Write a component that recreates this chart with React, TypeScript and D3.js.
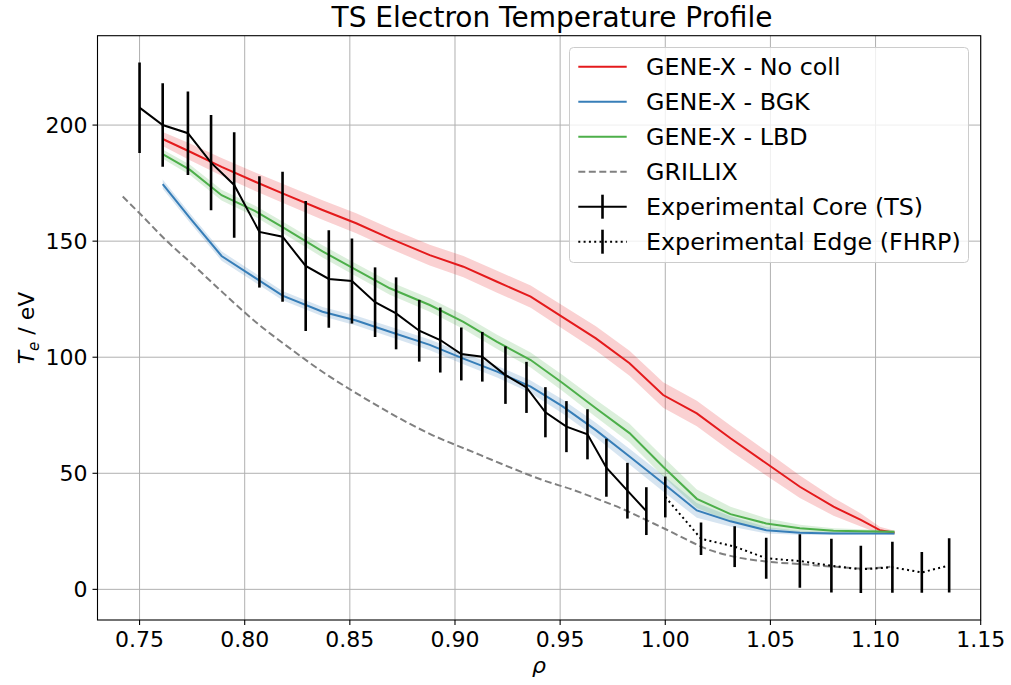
import React from "react";
import * as d3 from "d3";

// ---------- data ----------
const geneRho = [0.761, 0.774, 0.789, 0.805, 0.818, 0.837, 0.853, 0.869, 0.888, 0.904, 0.92, 0.936, 0.951, 0.967, 0.983, 0.999, 1.015, 1.031, 1.048, 1.064, 1.08, 1.093, 1.102, 1.109];
const noCollTe = [194, 188.5, 182, 175.6, 170.6, 163.4, 157.7, 151.2, 144, 139, 132.5, 126.1, 117.4, 108.1, 97.4, 83.7, 75.8, 65.1, 54.3, 44.2, 35.6, 29.9, 25.5, 24.4];
const noCollErr = [3, 3.6, 3.8, 4, 4.1, 4.2, 4.3, 4.4, 4.5, 4.6, 4.7, 4.8, 5, 5.2, 5.4, 5.5, 5.5, 5.5, 5.3, 4.8, 3.9, 2.8, 1.5, 0.8];
const bgkTe = [174.6, 159.9, 143.6, 134.2, 126.5, 119.6, 115.8, 111, 105.3, 99.4, 93.8, 87.3, 78.9, 68.6, 57.2, 45.7, 34, 29.3, 25.5, 24.4, 24.1, 24.1, 24.1, 24.1];
const bgkErr = [2, 2, 2, 2, 2, 2, 2.1, 2.2, 2.3, 2.4, 2.5, 2.7, 3, 3.2, 3.4, 3.5, 3.2, 2.2, 1.4, 0.9, 0.6, 0.5, 0.5, 0.5];
const lbdTe = [187.5, 180.7, 169.8, 162.9, 156, 145.6, 137.6, 129.7, 122.5, 115.2, 106.6, 98.8, 89, 78, 67.3, 52.8, 39, 32.4, 28.4, 26.3, 25.2, 25, 24.9, 24.8];
const lbdErr = [2, 2.2, 2.3, 2.4, 2.5, 2.6, 2.7, 2.8, 2.9, 3, 3.1, 3.2, 3.4, 3.7, 4, 4.2, 4, 3.2, 2.2, 1.5, 1.1, 0.9, 0.7, 0.6];

const grillixRho = [0.742, 0.75, 0.763, 0.774, 0.79, 0.806, 0.822, 0.838, 0.854, 0.87, 0.888, 0.909, 0.925, 0.941, 0.957, 0.967, 0.98, 0.993, 1.0, 1.01, 1.017, 1.033, 1.049, 1.065, 1.081, 1.093, 1.107];
const grillixTe = [169.2, 162, 150, 141, 127.5, 114.6, 103.5, 93.1, 84, 75.5, 67, 59, 53, 47.3, 42.6, 39.2, 34.5, 29, 26, 21.5, 18.4, 14, 11.9, 10.8, 9.7, 9, 9.7];

const coreRho = [0.75, 0.761, 0.773, 0.784, 0.795, 0.807, 0.818, 0.829, 0.84, 0.851, 0.862, 0.872, 0.883, 0.893, 0.903, 0.913, 0.924, 0.934, 0.943, 0.953, 0.963, 0.972, 0.982, 0.991];
const coreTe = [207.5, 200, 196.5, 183.8, 174.2, 154, 151.9, 139.3, 133.7, 132.8, 123.7, 118.9, 111.4, 107.4, 101.4, 100.2, 92.3, 87, 76.3, 70.1, 66.8, 52.4, 42.5, 33.7];
const coreErr = [19.5, 18, 18, 20.5, 22.7, 24, 28, 28, 21, 18.3, 15, 15.5, 13.3, 14, 11.4, 10.7, 12.4, 11, 10.8, 11, 10.8, 12.5, 12, 10.3];

const edgeRho = [1.0, 1.017, 1.033, 1.048, 1.064, 1.079, 1.093, 1.108, 1.122, 1.135];
const edgeTe = [39.8, 21.8, 18.4, 13.4, 12.2, 10.2, 8.6, 9.5, 7.3, 10.3];
const edgeErr = [8.8, 7, 8.8, 8.8, 11.5, 11.6, 10.2, 11, 8.8, 11.7];

const xTicks = [0.75, 0.8, 0.85, 0.9, 0.95, 1.0, 1.05, 1.1, 1.15];
const yTicks = [0, 50, 100, 150, 200];

const legendLabels = ["GENE-X - No coll", "GENE-X - BGK", "GENE-X - LBD", "GRILLIX", "Experimental Core (TS)", "Experimental Edge (FHRP)"];

const RED = "#e41a1c";
const BLUE = "#377eb8";
const GREEN = "#4daf4a";
const GRAY = "#808080";

export default function App() {
  const W = 1011, H = 685;
  const left = 97.5, right = 980.7, top = 35.7, bottom = 620;
  const x = d3.scaleLinear().domain([0.73, 1.15]).range([left, right]);
  const y = d3.scaleLinear().domain([-13.2, 238.5]).range([bottom, top]);
  const font = "'DejaVu Sans', sans-serif";

  const line = (xs: number[], ys: number[], curve: d3.CurveFactory = d3.curveLinear) =>
    d3.line<number>().curve(curve).x((_, i) => x(xs[i])).y((v) => y(v))(ys) || "";
  const band = (xs: number[], ys: number[], es: number[]) =>
    d3
      .area<number>()
      .x((_, i) => x(xs[i]))
      .y0((v, i) => y(v - es[i]))
      .y1((v, i) => y(v + es[i]))(ys) || "";

  const sims = [
    { te: noCollTe, err: noCollErr, c: RED },
    { te: bgkTe, err: bgkErr, c: BLUE },
    { te: lbdTe, err: lbdErr, c: GREEN },
  ];

  const lx0 = 578.3, lx1 = 626.7, ltx = 646;
  const rowY = (i: number) => 66.7 + i * 35;
  const dotted = "2,3.3";

  return (
    <svg width={W} height={H} style={{ position: "absolute", left: 0, top: 0, background: "#fff" }} fontFamily={font}>
      <defs>
        <clipPath id="plotclip">
          <rect x={left} y={top} width={right - left} height={bottom - top} />
        </clipPath>
      </defs>
      <rect x={0} y={0} width={W} height={H} fill="#fff" />
      {/* grid */}
      {xTicks.map((t) => (
        <line key={"gx" + t} x1={x(t)} x2={x(t)} y1={top} y2={bottom} stroke="#b0b0b0" strokeWidth={1} />
      ))}
      {yTicks.map((t) => (
        <line key={"gy" + t} x1={left} x2={right} y1={y(t)} y2={y(t)} stroke="#b0b0b0" strokeWidth={1} />
      ))}
      <g clipPath="url(#plotclip)">
        {sims.map((s, k) => (
          <path key={"b" + k} d={band(geneRho, s.te, s.err)} fill={s.c} fillOpacity={0.2} stroke="none" />
        ))}
        {sims.map((s, k) => (
          <path key={"l" + k} d={line(geneRho, s.te)} fill="none" stroke={s.c} strokeWidth={2} />
        ))}
        <path d={line(grillixRho, grillixTe, d3.curveMonotoneX)} fill="none" stroke={GRAY} strokeWidth={2} strokeDasharray="7,3.5" />
        <path d={line(coreRho, coreTe)} fill="none" stroke="#000" strokeWidth={2} />
        {coreRho.map((r, i) => (
          <line key={"ce" + i} x1={x(r)} x2={x(r)} y1={y(coreTe[i] - coreErr[i])} y2={y(coreTe[i] + coreErr[i])} stroke="#000" strokeWidth={2.6} />
        ))}
        <path d={line(edgeRho, edgeTe)} fill="none" stroke="#000" strokeWidth={2} strokeDasharray={dotted} />
        {edgeRho.map((r, i) => (
          <line key={"ee" + i} x1={x(r)} x2={x(r)} y1={y(edgeTe[i] - edgeErr[i])} y2={y(edgeTe[i] + edgeErr[i])} stroke="#000" strokeWidth={2.6} />
        ))}
      </g>
      {/* spines */}
      <rect x={left} y={top} width={right - left} height={bottom - top} fill="none" stroke="#000" strokeWidth={1.1} />
      {/* x ticks */}
      {xTicks.map((t) => (
        <g key={"xt" + t}>
          <line x1={x(t)} x2={x(t)} y1={bottom} y2={bottom + 5} stroke="#000" strokeWidth={1.1} />
          <text x={x(t)} y={647} textAnchor="middle" fontSize={22} fill="#000">
            {t.toFixed(2)}
          </text>
        </g>
      ))}
      {yTicks.map((t) => (
        <g key={"yt" + t}>
          <line x1={left - 5} x2={left} y1={y(t)} y2={y(t)} stroke="#000" strokeWidth={1.1} />
          <text x={left - 10} y={y(t) + 8} textAnchor="end" fontSize={22} fill="#000">
            {t}
          </text>
        </g>
      ))}
      {/* labels */}
      <text x={552} y={27} textAnchor="middle" fontSize={28} fill="#000">
        TS Electron Temperature Profile
      </text>
      <text x={539} y={673} textAnchor="middle" fontSize={22} fontStyle="italic" fill="#000">
        ρ
      </text>
      <text transform="translate(34,328) rotate(-90)" textAnchor="middle" fontSize={22} fill="#000">
        <tspan fontStyle="italic">T</tspan>
        <tspan fontSize={15} fontStyle="italic" dy={5}>e</tspan>
        <tspan dy={-5}> / eV</tspan>
      </text>
      {/* legend */}
      <rect x={569.5} y={47.5} width={399} height={215} rx={4} fill="#fff" fillOpacity={0.8} stroke="#cccccc" strokeWidth={1} />
      {legendLabels.map((lab, i) => {
        const yy = rowY(i);
        let handle: React.ReactNode = null;
        if (i < 3) {
          handle = <line x1={lx0} x2={lx1} y1={yy} y2={yy} stroke={[RED, BLUE, GREEN][i]} strokeWidth={2} />;
        } else if (i === 3) {
          handle = <line x1={lx0} x2={lx1} y1={yy} y2={yy} stroke={GRAY} strokeWidth={2} strokeDasharray="7,3.5" />;
        } else {
          const mid = (lx0 + lx1) / 2;
          handle = (
            <g>
              <line x1={lx0} x2={lx1} y1={yy} y2={yy} stroke="#000" strokeWidth={2} strokeDasharray={i === 5 ? dotted : undefined} />
              <line x1={mid} x2={mid} y1={yy - 12} y2={yy + 12} stroke="#000" strokeWidth={2.6} />
            </g>
          );
        }
        return (
          <g key={"lg" + i}>
            {handle}
            <text x={ltx} y={yy + 8.5} fontSize={23.8} fill="#000">
              {lab}
            </text>
          </g>
        );
      })}
    </svg>
  );
}
